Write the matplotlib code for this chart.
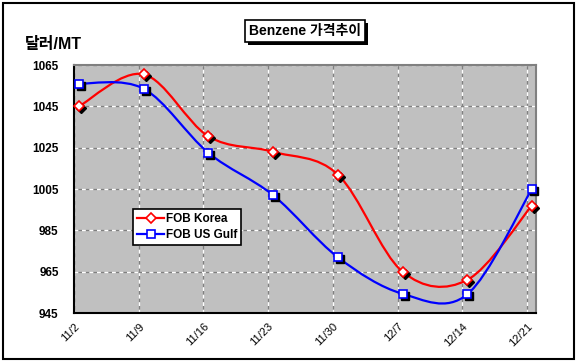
import matplotlib
matplotlib.use('Agg')
import matplotlib.pyplot as plt
import matplotlib.patheffects as pe
from matplotlib.path import Path
from matplotlib.patches import PathPatch, Rectangle
from matplotlib.transforms import offset_copy
import numpy as np

plt.rcParams['font.family'] = ['Liberation Sans', 'Noto Sans CJK KR']

# 데이터
dates = ['11/2', '11/9', '11/16', '11/23', '11/30', '12/7', '12/14', '12/21']
korea = [1045, 1060.5, 1030.5, 1023, 1012, 965, 961, 997]
us_gulf = [1056, 1053.5, 1022.5, 1002, 972, 954.3, 954, 1005]
title = 'Benzene 가격추이'
ylabel = '달러/MT'
yticks = [945, 965, 985, 1005, 1025, 1045, 1065]

fig = plt.figure(figsize=(5.78, 3.62), dpi=100)
ax = fig.add_axes([74/578, 1-313/362, 462/578, 248/362])
ax.set_facecolor('#C0C0C0')

pos = np.arange(len(dates))
xs = pos + 0.077


def smooth_path(x, y):
    # Excel 식 부드러운 선 (Catmull-Rom -> Bezier)
    pts = np.column_stack([x, y])
    n = len(pts)
    verts = [pts[0]]
    codes = [Path.MOVETO]
    for i in range(n - 1):
        p0 = pts[max(i - 1, 0)]
        p1 = pts[i]
        p2 = pts[i + 1]
        p3 = pts[min(i + 2, n - 1)]
        c1 = p1 + (p2 - p0) / 6
        c2 = p2 - (p3 - p1) / 6
        verts += [c1, c2, p2]
        codes += [Path.CURVE4] * 3
    return Path(verts, codes)


shadow = offset_copy(ax.transData, fig=fig, x=2, y=-2, units='dots')
series = [
    (korea, 'red', 'D', 5.3, 'FOB Korea'),
    (us_gulf, 'blue', 's', 5.5, 'FOB US Gulf'),
]
handles = []
for vals, col, mk, ms, lab in series:
    ax.add_patch(PathPatch(smooth_path(xs, vals), fill=False, edgecolor=col,
                           lw=1.6, zorder=3))
    ax.plot(xs, vals, ls='none', marker=mk, ms=ms, mfc='black', mec='black',
            transform=shadow, zorder=4, clip_on=False)
    ax.plot(xs, vals, ls='none', marker=mk, ms=ms, mfc='white', mec=col,
            mew=1.2, zorder=5, clip_on=False)
    h, = ax.plot([], [], color=col, lw=1.6, marker=mk, ms=ms, mfc='white',
                 mec=col, mew=1.2, label=lab)
    handles.append(h)

ax.set_xlim(0, 7.14)
ax.set_ylim(945, 1065)
ax.set_xticks(pos)
ax.set_xticklabels(dates, rotation=45, ha='right', rotation_mode='anchor',
                   fontsize=8)
ax.set_yticks(yticks)
ax.set_yticklabels([str(v) for v in yticks], fontsize=8.5, fontweight='bold')
ax.tick_params(axis='y', length=0, pad=11)
ax.tick_params(axis='x', length=0, pad=6)
ax.grid(True, color='white', linestyle=(0, (3, 3)), gapcolor='#808080', lw=0.9)
ax.set_axisbelow(True)
for s in ['top', 'right']:
    ax.spines[s].set_color('#808080')
    ax.spines[s].set_linewidth(1.5)
for s in ['left', 'bottom']:
    ax.spines[s].set_color('black')
    ax.spines[s].set_linewidth(1.5)

leg = ax.legend(handles=handles, loc='upper left', bbox_to_anchor=(0.128, 0.419),
                borderaxespad=0, frameon=True, fancybox=False, edgecolor='black',
                framealpha=1, facecolor='white', handlelength=2.3,
                handletextpad=0.1, borderpad=0.35, labelspacing=0.3,
                prop={'weight': 'bold', 'size': 8.5})
leg.get_frame().set_linewidth(1.2)

t = ax.text(0.5, 1 + 34/248, title, transform=ax.transAxes, ha='center',
            va='center', fontsize=10, fontweight='bold',
            bbox=dict(boxstyle='square,pad=0.3', fc='white', ec='black', lw=1.2))
t.get_bbox_patch().set_path_effects([
    pe.withSimplePatchShadow(offset=(2, -2), shadow_rgbFace='black', alpha=1)])

fig.text(25/578, 1-45/362, ylabel, ha='left', va='center', fontsize=11.5,
         fontweight='bold')

fig.add_artist(Rectangle((3/578, 3/362), 571/578, 356/362, fill=False,
                         edgecolor='black', lw=1.5, transform=fig.transFigure))

fig.savefig('out.png', dpi=100)
